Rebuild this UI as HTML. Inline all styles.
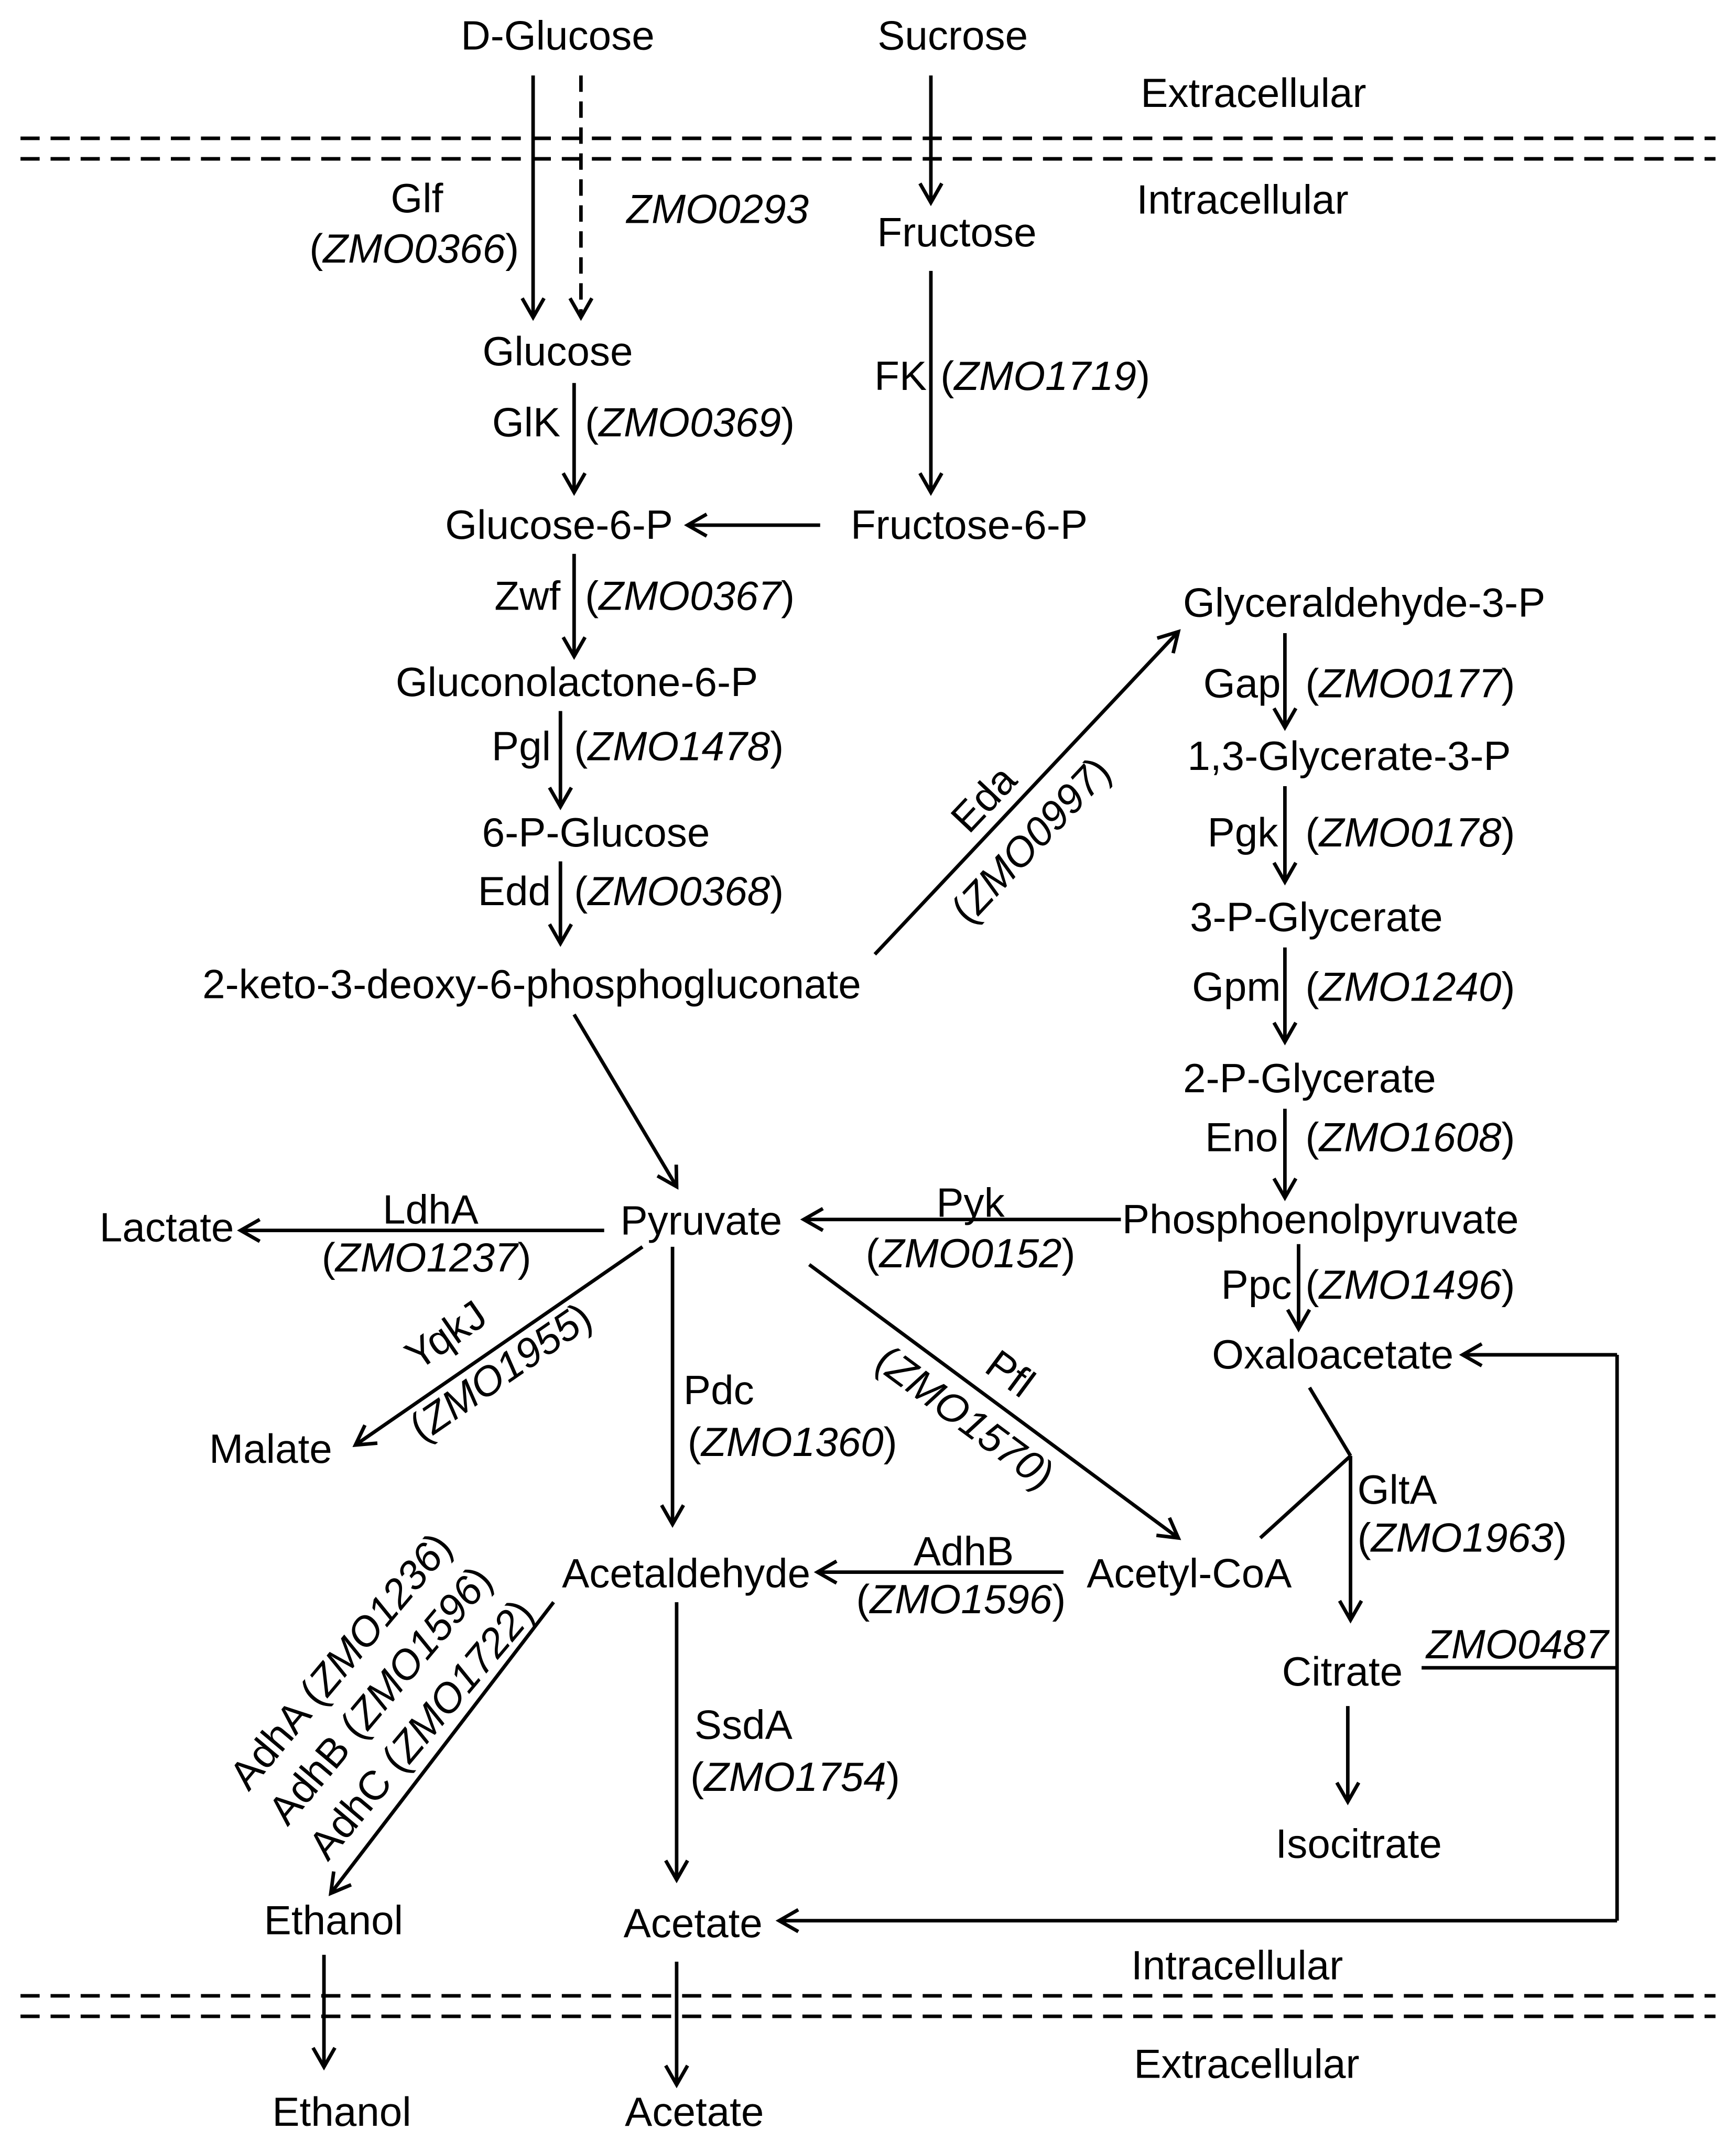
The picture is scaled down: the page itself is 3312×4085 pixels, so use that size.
<!DOCTYPE html>
<html><head><meta charset="utf-8"><style>
html,body{margin:0;padding:0;background:#fff;}
svg{display:block;}
text{font-family:"Liberation Sans",Arial,sans-serif;font-size:30px;fill:#000;}
.i{font-style:italic;}
.e{text-anchor:end;}
.s{text-anchor:start;}
</style></head><body>
<svg width="3312" height="4085" viewBox="0 0 1270 1566" xmlns="http://www.w3.org/2000/svg">
<defs>
<marker id="a" markerWidth="20" markerHeight="20" refX="16" refY="10" orient="auto" markerUnits="userSpaceOnUse">
<path d="M2,2 L16,10 L2,18" fill="none" stroke="#000" stroke-width="2.6"/>
</marker>
</defs>
<g stroke="#000" stroke-width="2.6" fill="none">
<line x1="15" y1="101" x2="1255" y2="101" stroke-dasharray="14,8"/>
<line x1="15" y1="116" x2="1255" y2="116" stroke-dasharray="14,8"/>
<line x1="15" y1="1460" x2="1255" y2="1460" stroke-dasharray="14,8"/>
<line x1="15" y1="1475" x2="1255" y2="1475" stroke-dasharray="14,8"/>
<line x1="390" y1="55" x2="390" y2="232" marker-end="url(#a)"/>
<line x1="425" y1="55" x2="425" y2="232" stroke-dasharray="12,7" marker-end="url(#a)"/>
<line x1="681" y1="55" x2="681" y2="148" marker-end="url(#a)"/>
<line x1="420" y1="280" x2="420" y2="360" marker-end="url(#a)"/>
<line x1="681" y1="198" x2="681" y2="360" marker-end="url(#a)"/>
<line x1="600" y1="384" x2="503" y2="384" marker-end="url(#a)"/>
<line x1="420" y1="405" x2="420" y2="480" marker-end="url(#a)"/>
<line x1="410" y1="520" x2="410" y2="590" marker-end="url(#a)"/>
<line x1="410" y1="630" x2="410" y2="690" marker-end="url(#a)"/>
<line x1="420" y1="742" x2="495" y2="868" marker-end="url(#a)"/>
<line x1="640" y1="698" x2="862" y2="462" marker-end="url(#a)"/>
<line x1="940" y1="463" x2="940" y2="532" marker-end="url(#a)"/>
<line x1="940" y1="575" x2="940" y2="645" marker-end="url(#a)"/>
<line x1="940" y1="693" x2="940" y2="762" marker-end="url(#a)"/>
<line x1="940" y1="811" x2="940" y2="876" marker-end="url(#a)"/>
<line x1="950" y1="910" x2="950" y2="972" marker-end="url(#a)"/>
<line x1="820" y1="892" x2="588" y2="892" marker-end="url(#a)"/>
<polyline points="1183,1405 1183,991"/>
<line x1="1183" y1="991" x2="1070" y2="991" marker-end="url(#a)"/>
<line x1="1183" y1="1405" x2="570" y2="1405" marker-end="url(#a)"/>
<line x1="1040" y1="1220" x2="1183" y2="1220"/>
<line x1="958" y1="1015" x2="988" y2="1065"/>
<line x1="922" y1="1125" x2="988" y2="1065"/>
<line x1="988" y1="1065" x2="988" y2="1185" marker-end="url(#a)"/>
<line x1="986" y1="1248" x2="986" y2="1318" marker-end="url(#a)"/>
<line x1="442" y1="900" x2="176" y2="900" marker-end="url(#a)"/>
<line x1="470" y1="912" x2="260" y2="1057" marker-end="url(#a)"/>
<line x1="492" y1="912" x2="492" y2="1115" marker-end="url(#a)"/>
<line x1="592" y1="925" x2="862" y2="1125" marker-end="url(#a)"/>
<line x1="778" y1="1150" x2="598" y2="1150" marker-end="url(#a)"/>
<line x1="495" y1="1172" x2="495" y2="1375" marker-end="url(#a)"/>
<line x1="405" y1="1172" x2="242" y2="1385" marker-end="url(#a)"/>
<line x1="237" y1="1430" x2="237" y2="1512" marker-end="url(#a)"/>
<line x1="495" y1="1435" x2="495" y2="1525" marker-end="url(#a)"/>
</g>
<g text-anchor="middle">
<text x="408" y="36">D-Glucose</text>
<text x="697" y="36">Sucrose</text>
<text x="917" y="78">Extracellular</text>
<text x="909" y="156">Intracellular</text>
<text x="305" y="155">Glf</text>
<text x="303" y="192">(<tspan class="i">ZMO0366</tspan>)</text>
<text x="525" y="163" class="i">ZMO0293</text>
<text x="700" y="180">Fructose</text>
<text x="408" y="267">Glucose</text>
<text x="410" y="319" class="e">GlK</text>
<text x="428" y="319" class="s">(<tspan class="i">ZMO0369</tspan>)</text>
<text x="678" y="285" class="e">FK</text>
<text x="688" y="285" class="s">(<tspan class="i">ZMO1719</tspan>)</text>
<text x="409" y="394">Glucose-6-P</text>
<text x="709" y="394">Fructose-6-P</text>
<text x="410" y="446" class="e">Zwf</text>
<text x="428" y="446" class="s">(<tspan class="i">ZMO0367</tspan>)</text>
<text x="422" y="509">Gluconolactone-6-P</text>
<text x="403" y="556" class="e">Pgl</text>
<text x="420" y="556" class="s">(<tspan class="i">ZMO1478</tspan>)</text>
<text x="436" y="619">6-P-Glucose</text>
<text x="403" y="662" class="e">Edd</text>
<text x="420" y="662" class="s">(<tspan class="i">ZMO0368</tspan>)</text>
<text x="389" y="730">2-keto-3-deoxy-6-phosphogluconate</text>
<text transform="translate(730,594) rotate(-46.7)" y="-4">Eda</text>
<text transform="translate(742,603) rotate(-46.7)" y="27">(<tspan class="i">ZMO0997</tspan>)</text>
<text x="998" y="451">Glyceraldehyde-3-P</text>
<text x="937" y="510" class="e">Gap</text>
<text x="955" y="510" class="s">(<tspan class="i">ZMO0177</tspan>)</text>
<text x="987" y="563">1,3-Glycerate-3-P</text>
<text x="935" y="619" class="e">Pgk</text>
<text x="955" y="619" class="s">(<tspan class="i">ZMO0178</tspan>)</text>
<text x="963" y="681">3-P-Glycerate</text>
<text x="937" y="732" class="e">Gpm</text>
<text x="955" y="732" class="s">(<tspan class="i">ZMO1240</tspan>)</text>
<text x="958" y="799">2-P-Glycerate</text>
<text x="935" y="842" class="e">Eno</text>
<text x="955" y="842" class="s">(<tspan class="i">ZMO1608</tspan>)</text>
<text x="966" y="902">Phosphoenolpyruvate</text>
<text x="945" y="950" class="e">Ppc</text>
<text x="955" y="950" class="s">(<tspan class="i">ZMO1496</tspan>)</text>
<text x="975" y="1001">Oxaloacetate</text>
<text x="993" y="1100" class="s">GltA</text>
<text x="993" y="1135" class="s">(<tspan class="i">ZMO1963</tspan>)</text>
<text x="1110" y="1213" class="i">ZMO0487</text>
<text x="982" y="1233">Citrate</text>
<text x="994" y="1359">Isocitrate</text>
<text x="870" y="1161">Acetyl-CoA</text>
<text x="513" y="903">Pyruvate</text>
<text x="710" y="890">Pyk</text>
<text x="710" y="927">(<tspan class="i">ZMO0152</tspan>)</text>
<text x="122" y="908">Lactate</text>
<text x="315" y="895">LdhA</text>
<text x="312" y="930">(<tspan class="i">ZMO1237</tspan>)</text>
<text x="198" y="1070">Malate</text>
<text transform="translate(332,985) rotate(-34.6)">YqkJ</text>
<text transform="translate(372,1012) rotate(-34.6)">(<tspan class="i">ZMO1955</tspan>)</text>
<text x="500" y="1027" class="s">Pdc</text>
<text x="503" y="1065" class="s">(<tspan class="i">ZMO1360</tspan>)</text>
<text transform="translate(733,1013) rotate(36.5)">Pfl</text>
<text transform="translate(700,1045) rotate(36.5)">(<tspan class="i">ZMO1570</tspan>)</text>
<text x="502" y="1161">Acetaldehyde</text>
<text x="705" y="1145">AdhB</text>
<text x="703" y="1180">(<tspan class="i">ZMO1596</tspan>)</text>
<text x="508" y="1272" class="s">SsdA</text>
<text x="505" y="1310" class="s">(<tspan class="i">ZMO1754</tspan>)</text>
<text transform="translate(249,1215) rotate(-50)" dominant-baseline="central">AdhA (<tspan class="i">ZMO1236</tspan>)</text>
<text transform="translate(278,1240) rotate(-50)" dominant-baseline="central">AdhB (<tspan class="i">ZMO1596</tspan>)</text>
<text transform="translate(308,1265) rotate(-50)" dominant-baseline="central">AdhC (<tspan class="i">ZMO1722</tspan>)</text>
<text x="244" y="1415">Ethanol</text>
<text x="507" y="1417">Acetate</text>
<text x="905" y="1448">Intracellular</text>
<text x="912" y="1520">Extracellular</text>
<text x="250" y="1555">Ethanol</text>
<text x="508" y="1555">Acetate</text>
</g>
</svg>
</body></html>
